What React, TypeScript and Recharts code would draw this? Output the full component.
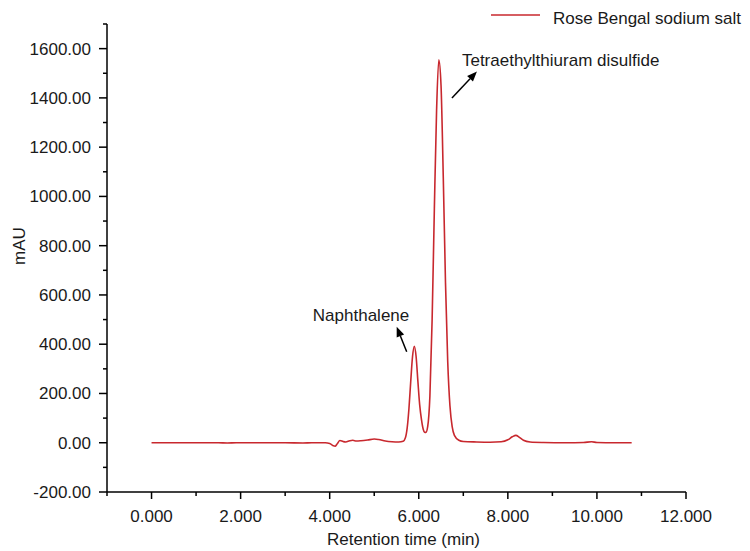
import React from "react";
import {
  LineChart,
  Line,
  XAxis,
  YAxis,
  Legend,
  ReferenceLine,
} from "recharts";

// chromatogram trace (retention time in min, absorbance in mAU)
const retentionTimes = [
  0, 0.5, 1, 1.5, 1.7, 1.9, 2.5, 3, 3.4, 3.6, 3.9, 4.0, 4.08, 4.12, 4.17, 4.23,
  4.3, 4.36, 4.45, 4.52, 4.6, 4.7, 4.85, 5.0, 5.1, 5.25, 5.4, 5.55, 5.65, 5.7,
  5.74, 5.78, 5.82, 5.86, 5.9, 5.94, 5.98, 6.02, 6.06, 6.1, 6.13, 6.16, 6.2,
  6.25, 6.3, 6.35, 6.4, 6.45, 6.5, 6.55, 6.6, 6.65, 6.7, 6.75, 6.8, 6.9, 7.0,
  7.3, 7.6, 7.85, 8.0, 8.1, 8.18, 8.26, 8.35, 8.5, 8.8, 9.3, 9.7, 9.88, 10.0,
  10.4, 10.78,
];
const absorbance = [
  0, 0, 0, 0, -1, 0, 0, 0, -1, 0, 0, -3, -12, -14, -4, 9,
  5, 3, 8, 10, 7, 8, 11, 15, 13, 7, 4, 3, 6, 20,
  60, 140, 250, 350, 392, 350, 250, 155, 95, 55, 43, 42, 65,
  190, 500, 950, 1350, 1555, 1450, 1080, 650, 330, 150, 65, 30, 10, 5,
  3, 2, 4, 12, 24, 30, 22, 10, 3, 1, 0, 1, 4, 1,
  0, 0,
];

const xTicks = [-1, 0, 1, 2, 3, 4, 5, 6, 7, 8, 9, 10, 11, 12];
const yTicks = [
  -200, -100, 0, 100, 200, 300, 400, 500, 600, 700, 800, 900, 1000, 1100,
  1200, 1300, 1400, 1500, 1600, 1700,
];

const seriesName = "Rose Bengal sodium salt";

// arrows: tail -> tip, in data units
const annotationLabels = ["Tetraethylthiuram disulfide", "Naphthalene"];
const annotationTails = [
  { x: 6.745, y: 1400 },
  { x: 5.729, y: 369 },
];
const annotationTips = [
  { x: 7.306, y: 1507 },
  { x: 5.504, y: 471 },
];

const chartData = retentionTimes.map((t, i) => ({ t, v: absorbance[i] }));

const FONT = "'Liberation Sans', Arial, sans-serif";
const TEXT = "#1a1a1a";
const RED = "#c8282e";

const XTick = (props: any) => {
  const { x, y, payload } = props;
  const major = payload.value % 2 === 0;
  return (
    <g>
      <line x1={x} y1={y} x2={x} y2={y + (major ? 7 : 4)} stroke="#000" strokeWidth={1.5} />
      {major && (
        <text x={x} y={y + 30} textAnchor="middle" fontSize={17} fontFamily={FONT} fill={TEXT}>
          {payload.value.toFixed(3)}
        </text>
      )}
    </g>
  );
};

const YTick = (props: any) => {
  const { x, y, payload } = props;
  const major = payload.value % 200 === 0;
  return (
    <g>
      <line x1={x} y1={y} x2={x - (major ? 8 : 4)} y2={y} stroke="#000" strokeWidth={1.5} />
      {major && (
        <text x={x - 16} y={y + 6} textAnchor="end" fontSize={17} fontFamily={FONT} fill={TEXT}>
          {payload.value.toFixed(2)}
        </text>
      )}
    </g>
  );
};

// arrow with a filled head and its caption near the tip
const makeArrow = (label: string, textAnchor: "start" | "end", dx: number) => (props: any) => {
  const { x1, y1, x2, y2 } = props;
  const ang = Math.atan2(y2 - y1, x2 - x1);
  const len = 10;
  const half = 4;
  const bx = x2 - len * Math.cos(ang);
  const by = y2 - len * Math.sin(ang);
  const p1 = `${bx + half * Math.sin(ang)},${by - half * Math.cos(ang)}`;
  const p2 = `${bx - half * Math.sin(ang)},${by + half * Math.cos(ang)}`;
  return (
    <g>
      <line x1={x1} y1={y1} x2={bx} y2={by} stroke="#000" strokeWidth={1.5} />
      <polygon points={`${x2},${y2} ${p1} ${p2}`} fill="#000" />
      <text x={x2 + dx} y={y2 - 6} textAnchor={textAnchor} fontSize={17} fontFamily={FONT} fill={TEXT}>
        {label}
      </text>
    </g>
  );
};

const arrowShapes = [makeArrow(annotationLabels[0], "start", -15), makeArrow(annotationLabels[1], "end", 12.6)];

const LegendBox = () => (
  <svg width={260} height={30}>
    <line x1={1} y1={15} x2={50} y2={15} stroke={RED} strokeWidth={1.5} />
    <text x={63} y={24} fontSize={17} fontFamily={FONT} fill={TEXT}>
      {seriesName}
    </text>
  </svg>
);

export default function App() {
  return (
    <div style={{ position: "absolute", left: 0, top: 0, background: "#fff" }}>
      <LineChart
        width={750}
        height={551}
        data={chartData}
        margin={{ top: 24, right: 64, bottom: 0, left: 0 }}
      >
        <XAxis
          dataKey="t"
          type="number"
          domain={[-1, 12]}
          ticks={xTicks}
          interval={0}
          tickSize={0}
          tickMargin={0}
          tickLine={false}
          tick={<XTick />}
          axisLine={{ stroke: "#000", strokeWidth: 1.5 }}
          height={59}
          label={{
            value: "Retention time (min)",
            position: "insideBottom",
            offset: 6,
            dx: 7,
            fontSize: 17,
            fontFamily: FONT,
            fill: TEXT,
          }}
        />
        <YAxis
          type="number"
          domain={[-200, 1700]}
          ticks={yTicks}
          interval={0}
          tickSize={0}
          tickMargin={0}
          tickLine={false}
          tick={<YTick />}
          axisLine={{ stroke: "#000", strokeWidth: 1.5 }}
          width={107}
          label={{
            content: (p: any) => {
              const vb = p.viewBox;
              const cx = vb.x + 25;
              const cy = vb.y + vb.height / 2 - 12;
              return (
                <text
                  transform={`translate(${cx}, ${cy}) rotate(-90)`}
                  textAnchor="middle"
                  fontSize={17}
                  fontFamily={FONT}
                  fill={TEXT}
                >
                  mAU
                </text>
              );
            },
          }}
        />
        <Legend
          layout="horizontal"
          verticalAlign="middle"
          align="center"
          wrapperStyle={{ top: 0, left: 490, width: 260, height: 30 }}
          content={() => <LegendBox />}
        />
        {annotationLabels.map((label, i) => (
          <ReferenceLine
            key={label}
            segment={[annotationTails[i], annotationTips[i]]}
            shape={arrowShapes[i]}
            ifOverflow="visible"
          />
        ))}
        <Line
          type="monotone"
          dataKey="v"
          name={seriesName}
          stroke={RED}
          strokeWidth={1.6}
          dot={false}
          isAnimationActive={false}
        />
      </LineChart>
    </div>
  );
}
